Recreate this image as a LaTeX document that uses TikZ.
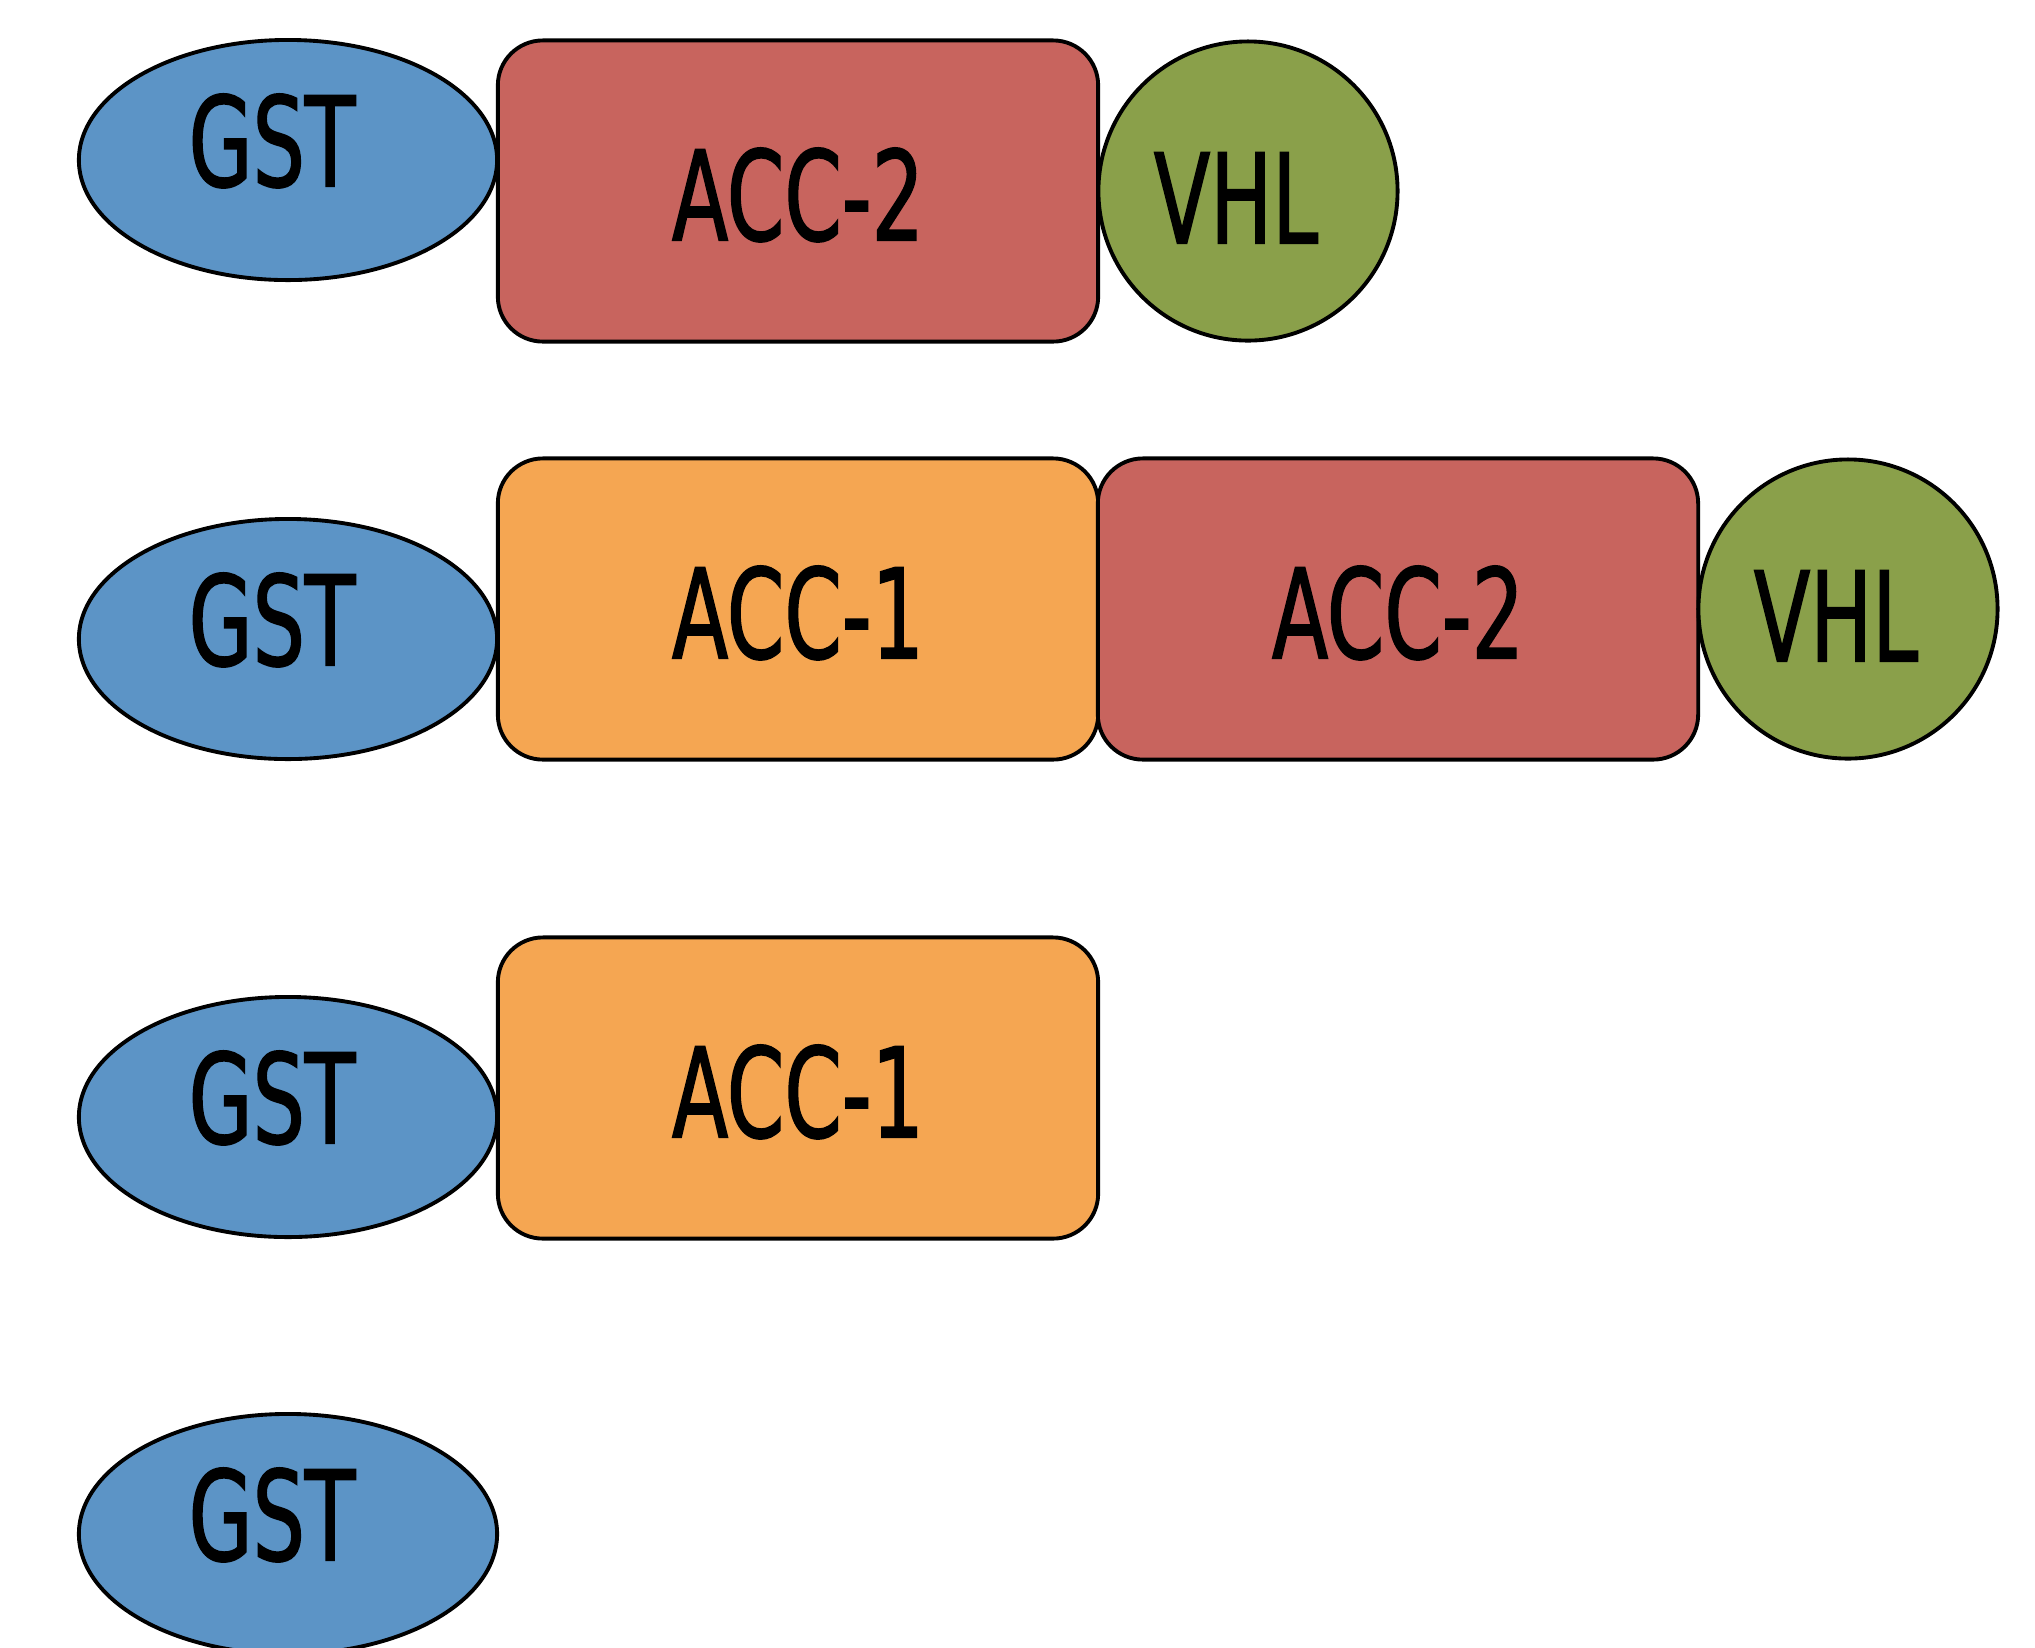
\documentclass[tikz,border=0pt]{standalone}
\usepackage{fontspec}
\setmainfont{DejaVu Sans}[FakeStretch=0.66, FakeBold=1.2]
\usetikzlibrary{shapes.geometric}
\definecolor{gstblue}{RGB}{92,148,198}
\definecolor{accred}{RGB}{200,100,94}
\definecolor{accorange}{RGB}{245,166,82}
\definecolor{vhlgreen}{RGB}{138,160,74}
\tikzset{
  part/.style={draw=black, line width=1.1pt, inner sep=0pt},
  gst/.style={part, ellipse, fill=gstblue, minimum width=4.18cm, minimum height=2.40cm},
  accbox/.style={part, rectangle, rounded corners=0.45cm, minimum width=6.00cm, minimum height=3.01cm},
  acc1/.style={accbox, fill=accorange},
  acc2/.style={accbox, fill=accred},
  vhl/.style={part, circle, fill=vhlgreen, minimum size=2.99cm},
  lbl/.style={inner sep=0pt, font=\fontsize{35.5}{37}\selectfont, text height=25.8pt, text depth=0pt}
}
\begin{document}
\begin{tikzpicture}[x=0.01cm, y=-0.01cm]
\useasboundingbox (0,0) rectangle (2035,1647);
\clip (0,0) rectangle (2035,1647);
% row 1
\node[gst] (g1) at (288,160) {};
\node[acc2] (b1) at (798,191) {};
\node[vhl] (v1) at (1248,191) {};
\node[lbl] (tg1) at ([shift={(-16,-19)}]g1.center) {GST};
\node[lbl] (tb1) at ([shift={(0,4)}]b1.center) {ACC-2};
\node[lbl] (tv1) at ([shift={(-12,7)}]v1.center) {VHL};
% row 2
\node[gst] (g2) at (288,639) {};
\node[acc1] (a2) at (798,609) {};
\node[acc2] (b2) at (1398,609) {};
\node[vhl] (v2) at (1848,609) {};
\node[lbl] (tg2) at ([shift={(-16,-19)}]g2.center) {GST};
\node[lbl] (ta2) at ([shift={(0,4)}]a2.center) {ACC-1};
\node[lbl] (tb2) at ([shift={(0,4)}]b2.center) {ACC-2};
\node[lbl] (tv2) at ([shift={(-12,7)}]v2.center) {VHL};
% row 3
\node[gst] (g3) at (288,1117) {};
\node[acc1] (a3) at (798,1088) {};
\node[lbl] (tg3) at ([shift={(-16,-19)}]g3.center) {GST};
\node[lbl] (ta3) at ([shift={(0,4)}]a3.center) {ACC-1};
% row 4
\node[gst] (g4) at (288,1534) {};
\node[lbl] (tg4) at ([shift={(-16,-19)}]g4.center) {GST};
\end{tikzpicture}
\end{document}
